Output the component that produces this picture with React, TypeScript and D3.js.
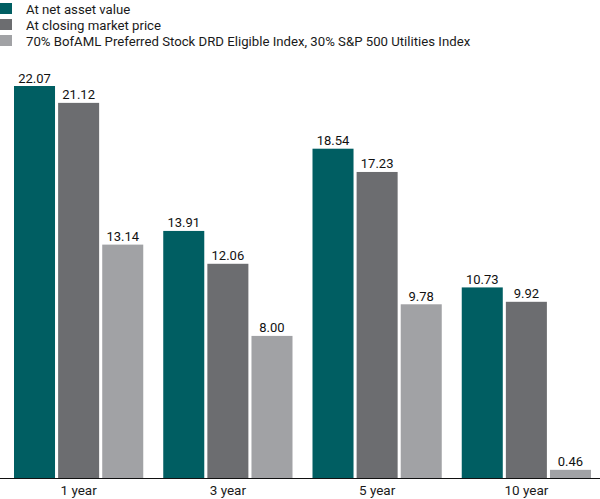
import React from "react";
import * as d3 from "d3";

const periods = ["1 year", "3 year", "5 year", "10 year"];
const seriesNames = [
  "At net asset value",
  "At closing market price",
  "70% BofAML Preferred Stock DRD Eligible Index, 30% S&P 500 Utilities Index",
];
const navValues = [22.07, 13.91, 18.54, 10.73];
const marketValues = [21.12, 12.06, 17.23, 9.92];
const indexValues = [13.14, 8.0, 9.78, 0.46];
const colors = ["#005e62", "#6c6d70", "#a1a2a5"];

const width = 600;
const height = 499;
const baseline = 478;
const font = "Roboto, 'Open Sans', sans-serif";

export default function App() {
  const series = [navValues, marketValues, indexValues];

  const x = d3
    .scaleBand()
    .domain(periods)
    .range([4, 601])
    .paddingInner(0.134)
    .paddingOuter(0.067);

  const xInner = d3
    .scaleBand()
    .domain(seriesNames)
    .range([0, x.bandwidth()])
    .paddingInner(0.07);

  const y = d3.scaleLinear().domain([0, 22.07]).range([baseline, 86]);

  return (
    <svg
      width={width}
      height={height}
      style={{ position: "absolute", left: 0, top: 0, background: "#fff" }}
      fontFamily={font}
    >
      {/* legend */}
      <g>
        {seriesNames.map((name, i) => (
          <g key={name} transform={`translate(0,${3 + i * 16})`}>
            <rect width={12} height={11} fill={colors[i]} />
            <text x={26} y={10.5} fontSize={13.2} fill="#1a1a1a">
              {name}
            </text>
          </g>
        ))}
      </g>

      {/* bars */}
      {periods.map((p, pi) => (
        <g key={p} transform={`translate(${x(p)},0)`}>
          {series.map((vals, si) => {
            const v = vals[pi];
            const bx = xInner(seriesNames[si]) ?? 0;
            return (
              <g key={si}>
                <rect
                  x={bx}
                  y={y(v)}
                  width={xInner.bandwidth()}
                  height={baseline - y(v)}
                  fill={colors[si]}
                />
                <text
                  x={bx + xInner.bandwidth() / 2}
                  y={y(v) - 3.5}
                  textAnchor="middle"
                  fontSize={13}
                  fill="#111"
                >
                  {d3.format(".2f")(v)}
                </text>
              </g>
            );
          })}
          <text
            x={x.bandwidth() / 2}
            y={495}
            textAnchor="middle"
            fontSize={13.5}
            fill="#1a1a1a"
          >
            {p}
          </text>
        </g>
      ))}

      {/* axis */}
      <line x1={0} x2={600} y1={baseline + 0.5} y2={baseline + 0.5} stroke="#111" strokeWidth={1.2} />
    </svg>
  );
}
